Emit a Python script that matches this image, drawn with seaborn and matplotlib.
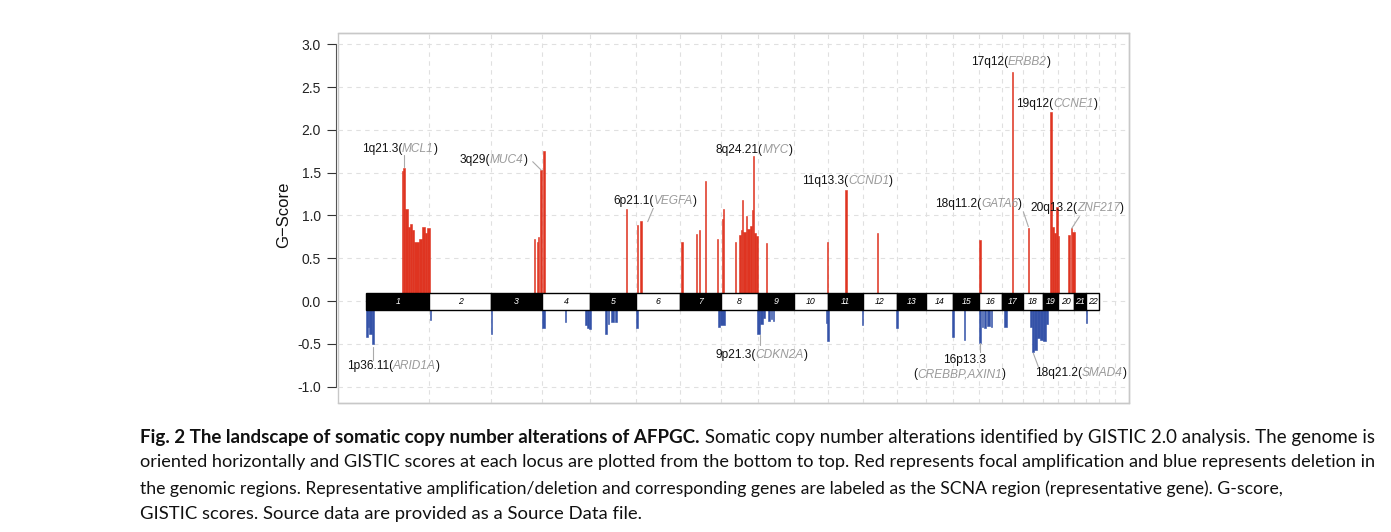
import matplotlib
matplotlib.use("Agg")
import numpy as np
import pandas as pd
import seaborn as sns
import matplotlib.pyplot as plt
from matplotlib.patches import Rectangle

# ---------------- data ----------------
chrom_names = [str(i) for i in range(1, 23)]
chrom_len_mb = [249.25, 243.20, 198.02, 191.15, 180.92, 171.12, 159.14, 146.36,
                141.21, 135.53, 135.01, 133.85, 115.17, 107.35, 102.53, 90.35,
                81.20, 78.08, 59.13, 63.03, 48.13, 51.30]

# amplification segments (genome-wide Mb)
amp_start = [141, 146, 155, 166, 173, 181, 190, 208, 219, 231, 238,
             661, 672, 675, 685, 697,
             1021.5,
             1064.5, 1077.5,
             1237.5, 1297.5, 1307, 1331, 1378,
             1399.5, 1403, 1450,
             1465.5, 1472, 1477.5, 1482.5, 1492, 1498, 1507.5, 1515.5, 1520.5, 1525.5, 1532,
             1571.5, 1810, 1883, 2006.5, 2409.5, 2537, 2600,
             2687.5, 2696.5, 2703, 2711, 2717,
             2759, 2769, 2775]
amp_end = [146, 155, 166, 173, 181, 190, 207, 219, 231, 238, 250,
           665, 675, 679, 691, 703,
           1025.5,
           1069.5, 1083,
           1244, 1301.5, 1311, 1336, 1382,
           1403, 1408, 1454,
           1472, 1477.5, 1482.5, 1492, 1498, 1507.5, 1515.5, 1520.5, 1525.5, 1532, 1540,
           1576.5, 1814, 1891, 2011.5, 2414.5, 2543, 2606,
           2696.5, 2703, 2711, 2717, 2723,
           2766, 2775, 2784.5]
amp_score = [1.52, 1.56, 1.08, 0.87, 0.90, 0.83, 0.69, 0.73, 0.86, 0.79, 0.85,
             0.72, 0.69, 0.75, 1.53, 1.75,
             1.08,
             0.89, 0.93,
             0.69, 0.78, 0.83, 1.40, 0.73,
             0.96, 1.08, 0.69,
             0.77, 0.83, 1.18, 0.81, 0.99, 0.84, 0.88, 1.06, 1.69, 0.80, 0.76,
             0.68, 0.69, 1.30, 0.79, 0.71, 2.68, 0.85,
             2.21, 0.86, 0.80, 1.10, 0.76,
             0.77, 0.85, 0.81]

# deletion segments (genome-wide Mb)
del_start = [0, 9, 13, 24, 251.5, 490, 692.5, 782, 860.5, 868.5, 876,
             939, 949, 964.5, 976.5, 1062, 1383, 1392,
             1537.5, 1547, 1558, 1581, 1593, 1600,
             1807, 1812, 1947.5, 2081, 2303.5, 2349.5,
             2409.5, 2418.5, 2429.5, 2441, 2456, 2505,
             2609, 2615.5, 2624.5, 2635, 2648, 2661, 2672, 2827]
del_end = [9, 13, 24, 33, 255.5, 497, 703.5, 787, 868.5, 876, 884,
           945.5, 954.5, 974.5, 985, 1067.5, 1392, 1410.5,
           1547, 1558, 1568, 1587, 1595, 1602,
           1812, 1820, 1954, 2090, 2310.5, 2354.5,
           2417.5, 2424.5, 2435, 2452, 2459, 2520,
           2615.5, 2624.5, 2635, 2648, 2661, 2672, 2681, 2834]
del_score = [-0.42, -0.30, -0.39, -0.50, -0.22, -0.39, -0.32, -0.24, -0.28, -0.32, -0.33,
             -0.38, -0.27, -0.25, -0.25, -0.31, -0.30, -0.28,
             -0.38, -0.27, -0.20, -0.23, -0.21, -0.23,
             -0.26, -0.47, -0.28, -0.32, -0.42, -0.45,
             -0.49, -0.30, -0.31, -0.29, -0.30, -0.30,
             -0.30, -0.59, -0.57, -0.43, -0.45, -0.47, -0.27, -0.26]

y_ticks = [-1.0, -0.5, 0.0, 0.5, 1.0, 1.5, 2.0, 2.5, 3.0]

# annotation labels: (region, gene, x_left_mb, y_center)
label_region = ["1q21.3", "3q29", "6p21.1", "8q24.21", "11q13.3", "17q12",
                "19q12", "18q11.2", "20q13.2", "1p36.11", "9p21.3", "18q21.2"]
label_gene = ["MCL1", "MUC4", "VEGFA", "MYC", "CCND1", "ERBB2",
              "CCNE1", "GATA6", "ZNF217", "ARID1A", "CDKN2A", "SMAD4"]
label_x = [-17, 367, 972, 1372, 1712, 2376, 2554, 2236, 2609, -76, 1372, 2628]
label_y = [1.777, 1.648, 1.169, 1.765, 1.407, 2.79, 2.30, 1.131, 1.084, -0.758, -0.627, -0.843]

# leader lines (x0, y0, x1, y1)
leaders = [(149.3, 1.706, 149.3, 1.570), (655, 1.628, 687.6, 1.532),
           (1128.8, 1.084, 1106.8, 0.928), (28.7, -0.533, 28.7, -0.688),
           (1548, -0.396, 1548, -0.513), (2582.5, 1.044, 2602.2, 0.869),
           (2802.6, 0.986, 2772.7, 0.850), (2412, -0.493, 2412, -0.591),
           (2621.8, -0.610, 2641.4, -0.766)]

caption_bold = "Fig. 2 The landscape of somatic copy number alterations of AFPGC."
caption_lines = [
    " Somatic copy number alterations identified by GISTIC 2.0 analysis. The genome is",
    "oriented horizontally and GISTIC scores at each locus are plotted from the bottom to top. Red represents focal amplification and blue represents deletion in",
    "the genomic regions. Representative amplification/deletion and corresponding genes are labeled as the SCNA region (representative gene). G-score,",
    "GISTIC scores. Source data are provided as a Source Data file.",
]

# ---------------- style ----------------
sns.set_theme(style="white")
plt.rcParams["font.family"] = ["Liberation Sans", "DejaVu Sans"]
plt.rcParams["axes.unicode_minus"] = True

RED = "#DF3421"
BLUE = "#3452A8"
GENE_GREY = "#9A9A9A"
LINE_GREY = "#AAAAAA"
GRID = "#E0E0E0"

fig = plt.figure(figsize=(13.91, 5.32), dpi=100)
ax = fig.add_axes([0.2428, 0.2430, 0.5691, 0.6945])

amp = pd.DataFrame({"start": amp_start, "end": amp_end, "score": amp_score})
dele = pd.DataFrame({"start": del_start, "end": del_end, "score": del_score})

ax.bar(amp["start"], amp["score"], width=amp["end"] - amp["start"], align="edge",
       color=RED, edgecolor=RED, linewidth=0.4, zorder=2)
ax.bar(dele["start"], dele["score"], width=dele["end"] - dele["start"], align="edge",
       color=BLUE, edgecolor=BLUE, linewidth=0.4, zorder=2)

# chromosome band
lens = np.array(chrom_len_mb)
offsets = np.concatenate([[0], np.cumsum(lens)[:-1]])
band_cols = ["black" if i % 2 == 0 else "white" for i in range(len(lens))]
ax.bar(offsets, 0.2, width=lens, bottom=-0.1, align="edge", color=band_cols,
       edgecolor="black", linewidth=1.0, zorder=3)
for i, (o, l) in enumerate(zip(offsets, lens)):
    ax.text(o + l / 2, 0, chrom_names[i], ha="center", va="center", fontsize=6.3,
            style="italic", color="white" if band_cols[i] == "black" else "black", zorder=4)

ax.set_xlim(-111, 2999)
ax.set_ylim(-1.187, 3.128)

# grid
grid_x = list(np.cumsum(lens)) + [2943]
ax.set_xticks(grid_x)
ax.tick_params(axis="x", length=0, labelbottom=False)
ax.set_yticks(y_ticks)
ax.set_yticklabels([f"{v:.1f}" for v in y_ticks])
ax.tick_params(axis="y", left=True, length=6.5, width=0.8, color="#333333", pad=4.7,
               labelsize=10, labelcolor="#222222")
ax.grid(True, linestyle=(0, (4, 4)), color=GRID, linewidth=0.8)
ax.set_axisbelow(True)

for s in ["top", "right", "bottom"]:
    ax.spines[s].set_color("#C8C8C8")
    ax.spines[s].set_linewidth(1.0)
ax.spines["left"].set_bounds(-1.0, 3.0)
ax.spines["left"].set_color("#555555")
ax.spines["left"].set_linewidth(0.8)
ax.spines["left"].set_position(("outward", 1))
ax.add_patch(Rectangle((0, 0), 1, 1, transform=ax.transAxes, fill=False,
                       edgecolor="#C8C8C8", linewidth=1.0, clip_on=False, zorder=0))

ax.set_ylabel("G\u2212Score", fontsize=12, color="#111111")
ax.yaxis.set_label_coords(-0.0587, 0.508)

# labels
LFS = 8.6


def rich(x, y, parts):
    t = None
    for txt, kind in parts:
        kw = dict(fontsize=LFS, va="center", ha="left",
                  color=GENE_GREY if kind == "g" else "#111111",
                  style="italic" if kind == "g" else "normal", zorder=6)
        if t is None:
            t = ax.text(x, y, txt, **kw)
        else:
            t = ax.annotate(txt, xy=(1, 0.5), xycoords=t, **kw)
    return t


for reg, gene, x, y in zip(label_region, label_gene, label_x, label_y):
    rich(x, y, [(reg + "(", "n"), (gene, "g"), (")", "n")])

ax.text(2351, -0.688, "16p13.3", ha="center", va="center", fontsize=LFS, color="#111111")
rich(2150, -0.852, [("(", "n"), ("CREBBP,AXIN1", "g"), (")", "n")])

for x0, y0, x1, y1 in leaders:
    ax.plot([x0, x1], [y0, y1], color=LINE_GREY, linewidth=0.8, zorder=5)

# caption (each line sized to the reference line length)
cap_font = ["Lato", "DejaVu Sans"]
renderer = fig.canvas.get_renderer()


def measure(txt, weight="normal"):
    p = fig.text(0, 0, txt, fontsize=12, family=cap_font, weight=weight)
    w = p.get_window_extent(renderer).width
    p.remove()
    return w


x_left_px = 140.0
line_end_px = [1373.0, 1373.0, 1283.0, 640.0]
w1 = measure(caption_bold, "bold") + measure(caption_lines[0])
widths = [w1] + [measure(t) for t in caption_lines[1:]]
sizes = [12 * (e - x_left_px) / w for e, w in zip(line_end_px, widths)]
base = sizes[1]
sizes = [min(max(s, base * 0.96), base * 1.04) for s in sizes]

x0 = x_left_px / 1391
ys = [1 - 437 / 532, 1 - 462.5 / 532, 1 - 488.5 / 532, 1 - 514.5 / 532]
tb = fig.text(x0, ys[0], caption_bold, fontsize=sizes[0], family=cap_font,
              weight="bold", va="center", ha="left", color="#111111")
ax.annotate(caption_lines[0], xy=(1, 0.5), xycoords=tb, fontsize=sizes[0],
            family=cap_font, va="center", ha="left", color="#111111",
            annotation_clip=False)
for line, y, s in zip(caption_lines[1:], ys[1:], sizes[1:]):
    fig.text(x0, y, line, fontsize=s, family=cap_font, va="center",
             ha="left", color="#111111")

fig.savefig("out.png", dpi=100)
